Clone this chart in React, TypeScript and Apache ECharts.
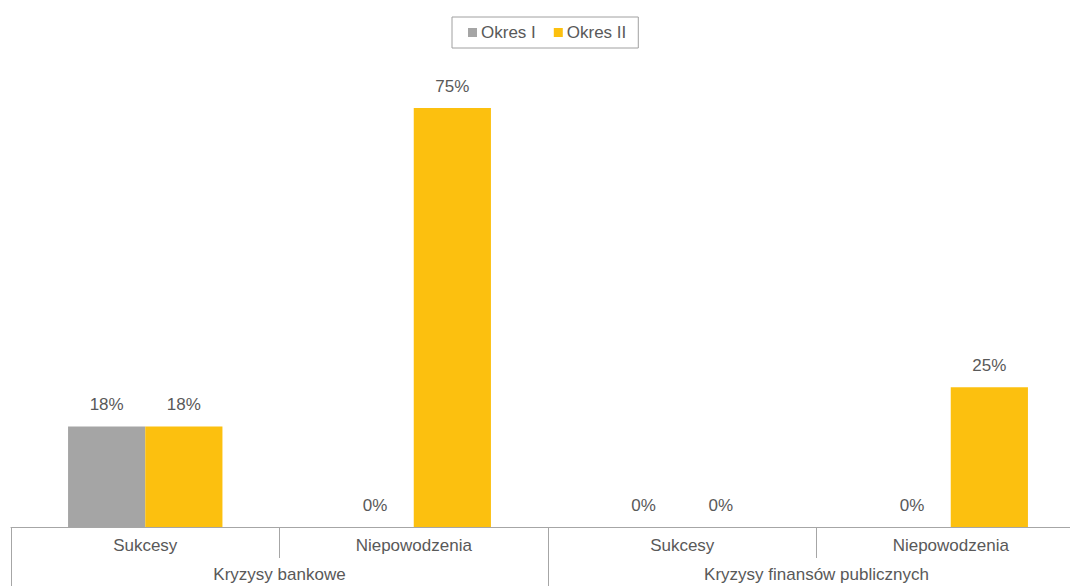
import React, { useEffect, useRef } from "react";
import * as echarts from "echarts";

const categories = ["Sukcesy", "Niepowodzenia", "Sukcesy", "Niepowodzenia"];
const groups = ["Kryzysy bankowe", "Kryzysy finansów publicznych"];
const okresI = [18, 0, 0, 0];
const okresII = [18, 75, 0, 25];
const seriesNames = ["Okres I", "Okres II"];

export default function App() {
  const ref = useRef<HTMLDivElement>(null);
  useEffect(() => {
    if (!ref.current) return;
    const chart = echarts.init(ref.current, undefined, { renderer: "svg" });
    const font = "'Liberation Sans', Arial, sans-serif";
    const textColor = "#595959";
    const lineColor = "#a6a6a6";
    const label = {
      show: true,
      position: "top" as const,
      distance: 13,
      formatter: "{c}%",
      color: textColor,
      fontSize: 17,
      fontFamily: font,
    };
    chart.setOption({
      animation: false,
      textStyle: { fontFamily: font },
      legend: {
        data: seriesNames,
        left: 452,
        top: 17,
        orient: "horizontal",
        itemWidth: 9,
        itemHeight: 9,
        itemGap: 18,
        padding: [7, 12, 7, 16],
        borderColor: "#a0a0a0",
        borderWidth: 1,
        icon: "rect",
        textStyle: { color: textColor, fontSize: 17, fontFamily: font, padding: [0, 0, 0, -1] },
      },
      grid: { left: 11, right: 15, top: 80, bottom: 59 },
      xAxis: [
        {
          type: "category",
          data: categories,
          position: "bottom",
          axisLine: { show: true, lineStyle: { color: lineColor, width: 1 } },
          axisTick: { show: true, interval: 0, length: 31, lineStyle: { color: lineColor } },
          axisLabel: { color: textColor, fontSize: 17, fontFamily: font, margin: 10, interval: 0 },
        },
        {
          type: "category",
          data: groups,
          position: "bottom",
          axisLine: { show: false },
          axisTick: { show: true, interval: 0, length: 70, lineStyle: { color: lineColor } },
          axisLabel: { color: textColor, fontSize: 17, fontFamily: font, margin: 39, interval: 0 },
        },
      ],
      yAxis: { type: "value", min: 0, max: 80, show: false },
      series: [
        {
          name: seriesNames[0],
          type: "bar",
          data: okresI,
          xAxisIndex: 0,
          itemStyle: { color: "#a5a5a5" },
          barGap: "0%",
          barCategoryGap: "42.5%",
          label,
        },
        {
          name: seriesNames[1],
          type: "bar",
          data: okresII,
          xAxisIndex: 0,
          itemStyle: { color: "#fcc00f" },
          barGap: "0%",
          barCategoryGap: "42.5%",
          label,
        },
      ],
    });
    return () => chart.dispose();
  }, []);
  return (
    <div
      ref={ref}
      style={{ position: "fixed", left: 0, top: 0, width: 1100, height: 586, background: "#fff" }}
    />
  );
}
